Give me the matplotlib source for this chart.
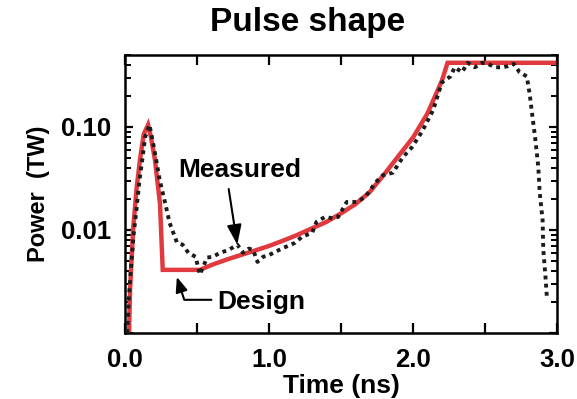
import matplotlib
matplotlib.use('Agg')
import matplotlib.pyplot as plt
from matplotlib.ticker import NullFormatter, LogLocator

plt.rcParams['font.family'] = ['Liberation Sans', 'DejaVu Sans']
plt.rcParams['font.weight'] = 'bold'

# design pulse (red)
design_t = [0.028, 0.035, 0.056, 0.08, 0.104, 0.13, 0.16, 0.18, 0.208, 0.243, 0.262,
            0.52, 0.6, 0.7, 0.8, 0.9, 1.0, 1.1, 1.2, 1.3, 1.4, 1.5, 1.6, 1.7, 1.8,
            1.9, 2.0, 2.1, 2.2, 2.24, 3.0]
design_p = [0.001, 0.0026, 0.01, 0.025, 0.048, 0.085, 0.105, 0.08, 0.048, 0.018, 0.0041,
            0.0041, 0.00457, 0.00513, 0.00569, 0.0063, 0.0070, 0.0079, 0.0090, 0.0104,
            0.0120, 0.0145, 0.0178, 0.0234, 0.0347, 0.0525, 0.079, 0.135, 0.28, 0.42, 0.42]

# measured pulse (black dotted)
meas_t = [0.015, 0.025, 0.04, 0.06, 0.08, 0.10, 0.12, 0.14, 0.17, 0.195, 0.22, 0.24,
          0.28, 0.31, 0.36, 0.40, 0.44, 0.49, 0.52, 0.57, 0.61, 0.66, 0.72, 0.78,
          0.82, 0.86, 0.89, 0.92, 0.96, 1.0, 1.05, 1.10, 1.18, 1.23, 1.30, 1.33,
          1.39, 1.44, 1.48, 1.54, 1.61, 1.67, 1.74, 1.79, 1.86, 1.93, 1.99, 2.06,
          2.14, 2.20, 2.26, 2.29, 2.34, 2.38, 2.43, 2.48, 2.52, 2.57, 2.62, 2.66,
          2.70, 2.74, 2.79, 2.81, 2.83, 2.85, 2.87, 2.88, 2.90, 2.905, 2.92, 2.93]
meas_p = [0.001, 0.002, 0.004, 0.009, 0.016, 0.03, 0.048, 0.08, 0.105, 0.07, 0.045, 0.031,
          0.018, 0.0117, 0.0076, 0.0072, 0.006, 0.0055, 0.0037, 0.0054, 0.0055, 0.006, 0.0064, 0.0072,
          0.006, 0.0066, 0.0064, 0.0049, 0.0055, 0.0057, 0.0062, 0.0067, 0.0075, 0.0086, 0.0094, 0.012,
          0.0134, 0.013, 0.0134, 0.0187, 0.0187, 0.021, 0.029, 0.034, 0.036, 0.051, 0.063, 0.089,
          0.146, 0.27, 0.31, 0.38, 0.34, 0.42, 0.38, 0.42, 0.41, 0.38, 0.38, 0.39,
          0.41, 0.34, 0.31, 0.21, 0.125, 0.075, 0.041, 0.023, 0.0125, 0.0064, 0.0035, 0.0022]

x_ticks = [0.0, 0.5, 1.0, 1.5, 2.0, 2.5, 3.0]
x_labels = ['0.0', '', '1.0', '', '2.0', '', '3.0']
y_ticks = [0.001, 0.01, 0.1]
y_labels = ['', '0.01', '0.10']

fig = plt.figure(figsize=(5.77, 3.99), dpi=100)
ax = fig.add_axes([125 / 577, 1 - 333 / 399, 432 / 577, 278 / 399])

ax.plot(design_t, design_p, color='#e0393e', lw=3.2, solid_joinstyle='miter', zorder=2)
ax.plot(meas_t, meas_p, color='#1c1c1c', lw=2.8, linestyle=(0, (1, 1.1)),
        dash_capstyle='butt', zorder=3)

ax.set_yscale('log')
ax.set_xlim(0, 3.0)
ax.set_ylim(0.001, 0.5)
ax.set_xticks(x_ticks)
ax.set_xticklabels(x_labels)
ax.set_yticks(y_ticks)
ax.set_yticklabels(y_labels)
ax.yaxis.set_minor_locator(LogLocator(base=10, subs=range(2, 10)))
ax.yaxis.set_minor_formatter(NullFormatter())
ax.xaxis.set_minor_locator(plt.NullLocator())

for s in ax.spines.values():
    s.set_linewidth(1.8)
ax.tick_params(axis='x', which='major', direction='in', top=True, length=7, width=1.6,
               labelsize=18.5, pad=11)
ax.tick_params(axis='y', which='major', direction='in', right=True, length=6, width=1.6,
               labelsize=18.5, pad=10)
ax.tick_params(axis='y', which='minor', direction='in', right=True, length=4, width=1.4)

ax.set_xlabel('Time (ns)', fontsize=19, fontweight='bold', labelpad=1)
ax.set_ylabel('Power  (TW)', fontsize=17, fontweight='bold', labelpad=8)

fig.text(308 / 577, 1 - 23 / 399, 'Pulse shape', fontsize=24, fontweight='bold',
         ha='center', va='center')

# annotations
ax.text(0.80, 0.038, 'Measured', fontsize=19, fontweight='bold', ha='center', va='center')
ax.annotate('', xy=(0.78, 0.0072), xytext=(0.72, 0.025),
            arrowprops=dict(arrowstyle='-|>,head_length=0.6,head_width=0.22', color='black',
                            lw=1.5, mutation_scale=20, shrinkA=0, shrinkB=0))
ax.text(0.64, 0.002, 'Design', fontsize=19, fontweight='bold', ha='left', va='center')
ax.annotate('', xy=(0.36, 0.0035), xytext=(0.60, 0.0021),
            arrowprops=dict(arrowstyle='-|>,head_length=0.5,head_width=0.2', color='black',
                            lw=1.5, mutation_scale=18, shrinkA=0, shrinkB=0,
                            connectionstyle='angle,angleA=0,angleB=108,rad=0'))

fig.savefig('out.png', dpi=100)
